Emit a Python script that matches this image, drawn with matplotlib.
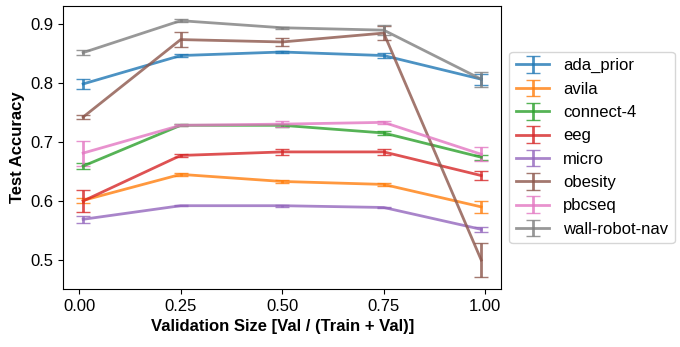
import matplotlib
matplotlib.use("Agg")
import matplotlib.pyplot as plt
import numpy as np

plt.rcParams['font.family'] = ['Liberation Sans', 'DejaVu Sans']

val_sizes = [0.01, 0.25, 0.5, 0.75, 0.99]
datasets = ["ada_prior", "avila", "connect-4", "eeg", "micro", "obesity", "pbcseq", "wall-robot-nav"]

acc_mean = {
    "ada_prior":      [0.798, 0.846, 0.852, 0.846, 0.806],
    "avila":          [0.601, 0.645, 0.633, 0.628, 0.590],
    "connect-4":      [0.659, 0.728, 0.728, 0.715, 0.674],
    "eeg":            [0.600, 0.677, 0.683, 0.683, 0.643],
    "micro":          [0.569, 0.592, 0.592, 0.589, 0.552],
    "obesity":        [0.742, 0.873, 0.869, 0.884, 0.500],
    "pbcseq":         [0.681, 0.728, 0.730, 0.733, 0.679],
    "wall-robot-nav": [0.851, 0.905, 0.893, 0.889, 0.806],
}
acc_std = {
    "ada_prior":      [0.008, 0.002, 0.002, 0.004, 0.009],
    "avila":          [0.004, 0.003, 0.002, 0.002, 0.010],
    "connect-4":      [0.005, 0.002, 0.003, 0.003, 0.004],
    "eeg":            [0.019, 0.003, 0.005, 0.005, 0.007],
    "micro":          [0.006, 0.001, 0.002, 0.001, 0.004],
    "obesity":        [0.003, 0.012, 0.007, 0.012, 0.029],
    "pbcseq":         [0.021, 0.002, 0.005, 0.002, 0.012],
    "wall-robot-nav": [0.004, 0.003, 0.002, 0.008, 0.013],
}

colors = plt.get_cmap("tab10").colors

fig, ax = plt.subplots(figsize=(6.8, 3.47), dpi=100)
fig.subplots_adjust(left=0.093, right=0.737, top=0.983, bottom=0.167)

for i, name in enumerate(datasets):
    ax.errorbar(val_sizes, acc_mean[name], yerr=acc_std[name], label=name,
                color=colors[i], linewidth=2, capsize=5, alpha=0.8)

ax.set_ylim(0.451, 0.930)
ax.set_xticks([0.0, 0.25, 0.5, 0.75, 1.0])
ax.tick_params(labelsize=12)
ax.set_xlabel("Validation Size [Val / (Train + Val)]", fontsize=12, fontweight="bold")
ax.set_ylabel("Test Accuracy", fontsize=12, fontweight="bold")
ax.legend(loc="center left", bbox_to_anchor=(1.0, 0.5), fontsize=12)

fig.savefig("out.png", dpi=100)
